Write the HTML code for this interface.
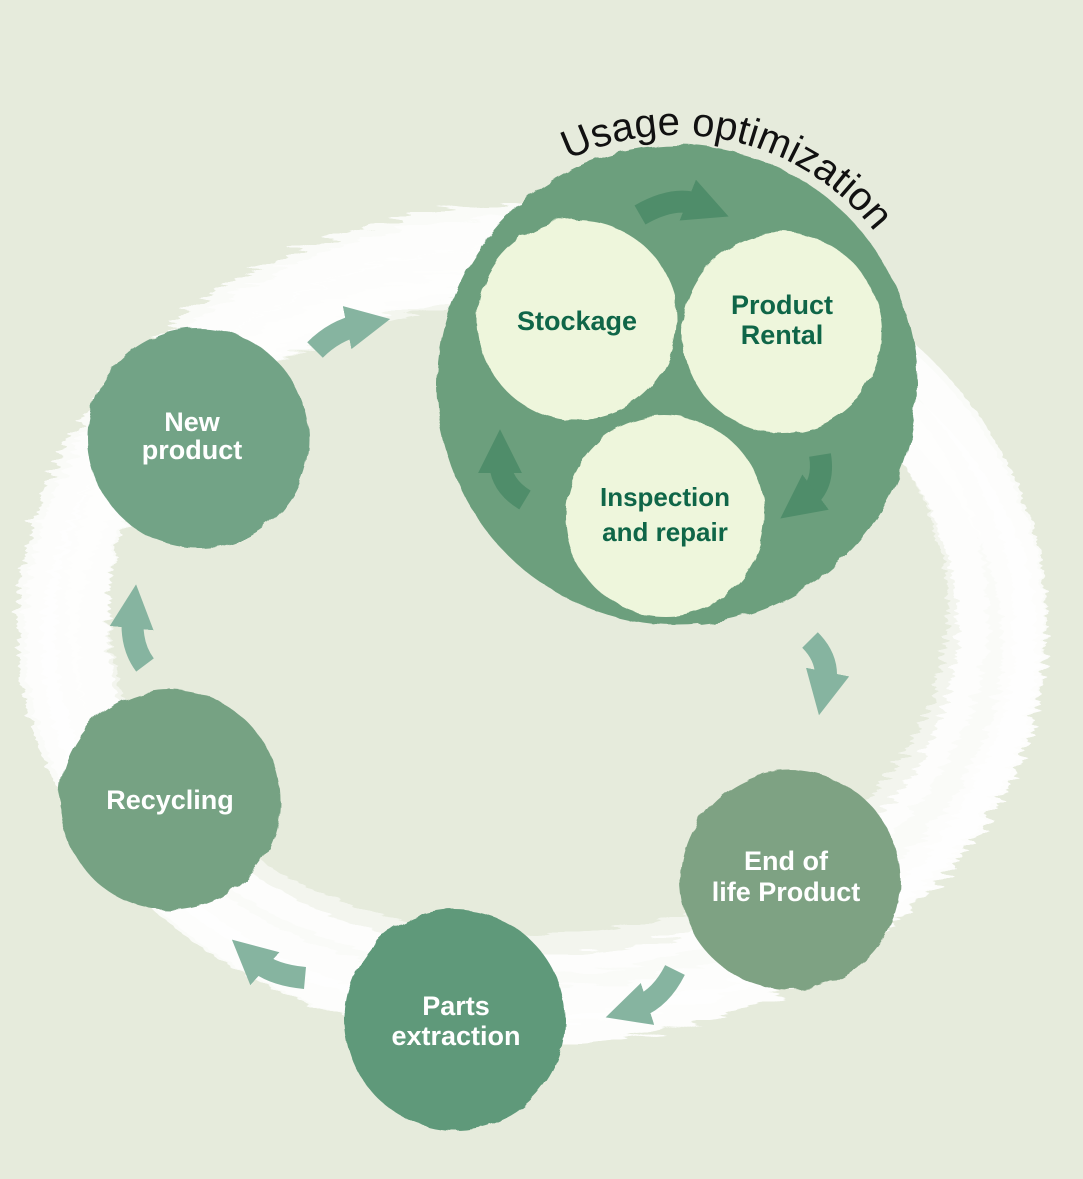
<!DOCTYPE html>
<html><head><meta charset="utf-8"><style>
html,body{margin:0;padding:0;background:#e6ebdc;}
svg{display:block}
text{font-family:"Liberation Sans",sans-serif;}
</style></head><body>
<svg width="1083" height="1179" viewBox="0 0 1083 1179" xmlns="http://www.w3.org/2000/svg">
<defs>
<filter id="rough" x="-20%" y="-20%" width="140%" height="140%">
<feTurbulence type="fractalNoise" baseFrequency="0.04" numOctaves="3" seed="3"/>
<feDisplacementMap in="SourceGraphic" scale="8"/>
</filter>
<filter id="brush" x="-10%" y="-10%" width="120%" height="120%">
<feTurbulence type="fractalNoise" baseFrequency="0.02 0.2" numOctaves="2" seed="7"/>
<feDisplacementMap in="SourceGraphic" scale="18"/>
</filter>
<marker id="ah" viewBox="0 0 10 10" refX="3" refY="5" markerWidth="2" markerHeight="2" orient="auto">
<path d="M0,0 L10,5 L0,10 z" fill="#86b4a0"/>
</marker>
<marker id="ah2" viewBox="0 0 10 10" refX="3" refY="5" markerWidth="2" markerHeight="2" orient="auto">
<path d="M0,0 L10,5 L0,10 z" fill="#4f8d6a"/>
</marker>
</defs>
<rect width="1083" height="1179" fill="#e6ebdc"/>
<g filter="url(#brush)" fill="none" stroke="#ffffff">
<ellipse cx="532" cy="625" rx="470" ry="375" stroke-width="90" opacity="0.8"/>
<ellipse cx="535" cy="630" rx="495" ry="400" stroke-width="30" opacity="0.6"/>
<ellipse cx="528" cy="610" rx="440" ry="345" stroke-width="40" opacity="0.5"/>
<ellipse cx="540" cy="645" rx="480" ry="360" stroke-width="35" opacity="0.55"/>
</g>
<circle cx="677" cy="385" r="240" fill="#6c9f7d" filter="url(#rough)"/>
<g fill="#eef6dc" filter="url(#rough)">
<circle cx="577" cy="320" r="100"/>
<circle cx="782" cy="333" r="100"/>
<circle cx="665" cy="516" r="100"/>
</g>
<g fill="none" stroke="#4f8d6a" stroke-width="22">
<path d="M640,215 Q675,195 700,205" marker-end="url(#ah2)"/>
<path d="M820,455 Q825,485 805,500" marker-end="url(#ah2)"/>
<path d="M525,500 Q500,485 500,460" marker-end="url(#ah2)"/>
</g>
<g filter="url(#rough)">
<circle cx="198" cy="438" r="110" fill="#72a386"/>
<circle cx="170" cy="800" r="110" fill="#76a283"/>
<circle cx="455" cy="1020" r="110" fill="#5e997a"/>
<circle cx="790" cy="880" r="110" fill="#7ea283"/>
</g>
<g fill="none" stroke="#86b4a0" stroke-width="22">
<path d="M315,350 Q335,330 360,325" marker-end="url(#ah)"/>
<path d="M810,640 Q830,660 825,685" marker-end="url(#ah)"/>
<path d="M675,970 Q660,1000 635,1008" marker-end="url(#ah)"/>
<path d="M305,978 Q272,975 255,960" marker-end="url(#ah)"/>
<path d="M145,665 Q130,645 133,615" marker-end="url(#ah)"/>
</g>
<g font-weight="bold" text-anchor="middle">
<text x="577" y="330" font-size="27" fill="#0f6648">Stockage</text>
<text x="782" y="314" font-size="27" fill="#0f6648">Product</text>
<text x="782" y="344" font-size="27" fill="#0f6648">Rental</text>
<text x="665" y="506" font-size="26" fill="#0f6648">Inspection</text>
<text x="665" y="541" font-size="26" fill="#0f6648">and repair</text>
<text x="192" y="431" font-size="27" fill="#fff">New</text>
<text x="192" y="459" font-size="27" fill="#fff">product</text>
<text x="170" y="809" font-size="27" fill="#fff">Recycling</text>
<text x="456" y="1015" font-size="27" fill="#fff">Parts</text>
<text x="456" y="1045" font-size="27" fill="#fff">extraction</text>
<text x="786" y="870" font-size="27" fill="#fff">End of</text>
<text x="786" y="901" font-size="27" fill="#fff">life Product</text>
</g>
<path id="arc" d="M427,385 A250 250 0 0 1 927,385" fill="none"/>
<text font-size="40" fill="#111"><textPath href="#arc" startOffset="280">Usage optimization</textPath></text>
</svg>
</body></html>
